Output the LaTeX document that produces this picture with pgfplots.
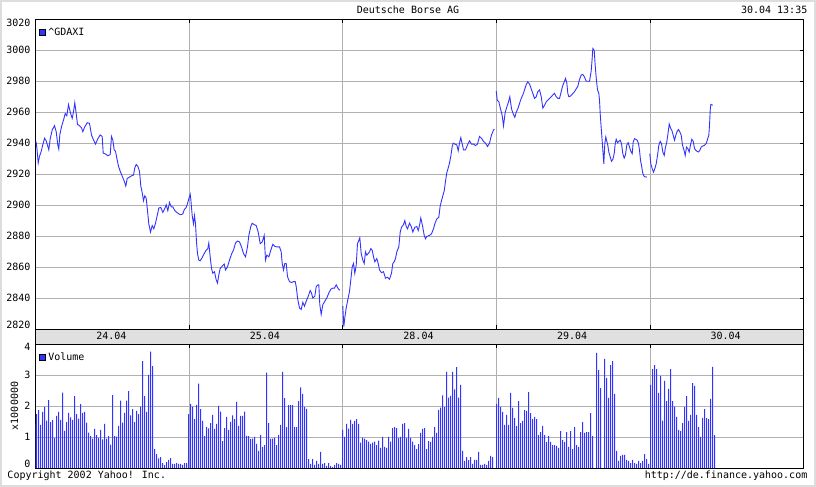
\documentclass[border=0pt]{standalone}
\usepackage{fontspec}
\setmainfont{DejaVu Sans Mono}
\usepackage{pgfplots}
\pgfplotsset{compat=1.18}
\definecolor{yb}{RGB}{51,51,255}
\definecolor{gridgray}{RGB}{176,176,176}
\definecolor{bandgray}{RGB}{224,224,224}
\definecolor{framegray}{RGB}{221,221,221}
\newcommand\cf{\fontsize{10bp}{12bp}\selectfont}

\pgfplotsset{
  yahoo/.style={
    scale only axis, width=768bp,
    xmin=0, xmax=768,
    xtick={153.6,307.2,460.8,614.4}, xticklabels={},
    xmajorgrids, ymajorgrids,
    grid style={gridgray, line width=0.8bp},
    axis line style={black, line width=0.9bp},
    tick style={black, line width=0.8bp},
    major tick length=4bp, tick align=inside,
    ticklabel style={font=\cf},
    yticklabel style={xshift=-1.5bp},
    legend style={at={(0,1)}, anchor=north west, draw=none, fill=none,
      xshift=3.5bp, yshift=-8.5bp, inner sep=0pt, font=\cf,
      column sep=3bp, nodes={inner sep=0pt}},
    legend image code/.code={\draw[draw=black, fill=yb, line width=0.6bp] (0bp,-2.8bp) rectangle (5.6bp,2.8bp);},
  }
}

\begin{document}
\begin{tikzpicture}[x=1bp, y=1bp, font=\cf]
\useasboundingbox (0,0) rectangle (816,487);
\fill[white] (0,0) rectangle (816,487);
\draw[framegray, line width=2bp] (1,1) rectangle (815,486);
\fill[bandgray] (35.5,143) rectangle (803.5,158);

% price
\begin{axis}[yahoo, at={(35.5bp,158bp)}, anchor=south west, height=309.7bp,
  ymin=2820, ymax=3020,
  ytick={2840,2860,2880,2900,2920,2940,2960,2980,3000},
  yticklabels={2840,2860,2880,2900,2920,2940,2960,2980,3000},
  extra y ticks={2822.8,3017.4}, extra y tick labels={2820,3020},
  extra y tick style={grid=none, major tick length=0pt},
  ytick pos=right, yticklabel pos=left]
\addplot[yb, line width=0.9bp] coordinates {
(0,2941.1)(0.7,2940.6)(1.7,2934.7)(2.7,2927.2)(4,2931.5)(5.7,2934.7)(7.3,2938.9)(9,2943.2)(10.7,2941.5)(12.3,2937.9)(13.3,2935.7)(14.7,2942.8)(16.7,2948.5)(19,2951.3)(20.7,2947.4)(22.3,2938.9)(23.3,2936.2)(24.3,2945.3)(26,2950.6)(28,2954.9)(29.7,2959.1)(31.3,2957.7)(33,2964.9)(34.7,2960.2)(36.7,2956)(38,2960.2)(39.3,2966.2)(40.7,2959.1)(42,2952.1)(44,2951.3)(46,2950)(47.3,2947.4)(49.3,2950.6)(51.7,2953.2)(54,2952.8)(56,2945.3)(58,2942.1)(60,2939.4)(62.3,2942.8)(64.7,2945.3)(66.7,2944.3)(67.7,2933.6)(70,2933)(72.3,2931.9)(74.7,2932.6)(76,2944.3)(77.3,2942.1)(78.7,2935.7)(80,2934.7)(81.3,2930.4)(83,2925.1)(84.7,2921.9)(86.7,2918.7)(88.7,2915.5)(90.3,2912.3)(91.7,2917.2)(94,2918.1)(96,2918.9)(98,2919.4)(99.3,2924)(100.7,2926.2)(102.3,2925.1)(104,2921.9)(105.3,2912.3)(106.7,2908.1)(108,2902.8)(109.3,2906)(110.7,2904.5)(112,2896.4)(113.3,2887.9)(115,2882.6)(116.7,2886.8)(118.3,2884.7)(120,2888.3)(121.7,2893.2)(123.3,2898.1)(125.3,2898.5)(127.3,2895.3)(129,2897.4)(130.7,2900.2)(132.3,2896.4)(134,2901.7)(135.7,2898.9)(137.3,2898.9)(139.3,2896.4)(141.3,2895.3)(143.3,2894.3)(145.3,2893.8)(147.3,2894.3)(149,2897.4)(150.7,2898.5)(152.3,2901.7)(153.7,2904.9)(154.7,2907)(155.3,2903.8)(156.7,2893.2)(158,2887.9)(159,2893.2)(160,2887.9)(161,2876.2)(162,2868.7)(163.3,2864.5)(164.7,2864)(166.7,2866.2)(168.7,2868.7)(170.7,2870.9)(172.3,2871.9)(173.3,2875.5)(174.7,2866.6)(176,2859.1)(177.3,2856)(179,2857)(180.7,2851.7)(182,2849.6)(183.3,2854.9)(184.7,2859.1)(186.7,2860.6)(188.7,2861.9)(190,2858.1)(192,2860.2)(194,2864.5)(196,2868.3)(198,2870.9)(200,2875.5)(202,2876.8)(204,2876.2)(206,2873)(208,2868.7)(210,2866.6)(212,2873)(213.3,2880.4)(215.3,2886.2)(216.7,2888.3)(218.7,2887.4)(220.7,2886.8)(222.7,2882.6)(224.7,2875.1)(226.7,2876.2)(228.7,2880.4)(230,2864.5)(231.3,2867.7)(233.3,2866.6)(235.3,2870.9)(237.3,2874.7)(239.3,2873.4)(241.3,2873)(244,2873)(245.7,2869.8)(246.7,2862.3)(248,2858.1)(249.3,2862.3)(250.7,2862.3)(252,2853.8)(254,2850.6)(256,2850)(258,2850.6)(259.7,2850.6)(260.7,2847.4)(262.3,2838.9)(264,2833.6)(265.7,2832.6)(267.3,2837.2)(269,2834.7)(270.7,2837.9)(272.7,2841.1)(274.7,2844.9)(276,2843.2)(277.3,2840)(279.3,2841.1)(280.7,2847.4)(282.3,2848.5)(283.3,2848.5)(284.3,2835.7)(285.7,2829.4)(287.3,2835.7)(289.3,2837.9)(291.3,2840)(293.3,2843.2)(295.3,2845.7)(297.3,2846.4)(299,2846.4)(300.7,2848.5)(302.3,2846.4)(304.3,2844.9)
};
\addlegendentry{\textasciicircum GDAXI}
\addplot[yb, line width=0.9bp, forget plot] coordinates {
(307.3,2834.7)(308.3,2821.5)(309.3,2827.2)(310.7,2833.6)(312.3,2838.9)(314,2844.3)(315.3,2851.7)(316.7,2860.2)(318,2862.3)(319.3,2855.9)(320.7,2861.3)(322,2875.1)(323.3,2877.2)(324.3,2878.9)(325.7,2868.7)(327.3,2864.5)(328.7,2862.3)(330,2869.8)(331.3,2867.7)(332.7,2868.7)(334,2869.8)(335.3,2871.9)(336.7,2870.9)(338,2866.6)(339.3,2863.4)(341.3,2865.5)(342.7,2862.3)(344,2858.1)(346,2856.4)(348,2857)(350,2852.8)(352,2853.4)(354,2852.1)(356,2856)(357.3,2862.3)(358.7,2863.4)(360,2865.5)(361.3,2869.8)(363.3,2873)(364.7,2882.6)(366,2885.7)(368,2887.4)(369.3,2890)(370.7,2886.2)(372,2884.7)(374,2888.3)(376,2885.7)(377.3,2882.6)(379.3,2885.7)(381.3,2886.2)(382.7,2883.6)(384,2886.8)(385.3,2891.7)(387.3,2885.7)(388.7,2880.4)(390,2878.3)(391.3,2879.8)(394,2880.4)(396,2881.5)(398,2884.7)(399.3,2887.9)(401.3,2891.1)(403.3,2892.1)(404.7,2899.6)(406,2902.8)(407.3,2906)(408.7,2909.1)(410,2915.5)(411.3,2920.9)(412.7,2924)(414,2927.2)(415.3,2931.5)(416.7,2937.9)(417.7,2940)(419.3,2939.4)(421.3,2938.9)(422.7,2935.1)(424,2940)(425.3,2943.6)(426.7,2939.4)(428,2935.7)(430,2935.7)(432,2938.9)(434,2941.5)(436,2939.4)(438,2939.4)(440,2938.5)(442,2939.4)(444,2944.3)(446,2943.2)(448,2941.1)(450,2940)(452,2937.9)(454,2940)(456,2945.3)(458,2948.5)(459,2949.1)
};
\addplot[yb, line width=0.9bp, forget plot] coordinates {
(460.7,2973.8)(461.7,2967.8)(463.3,2966.7)(465,2962.2)(466.7,2957.8)(468,2951.1)(469.7,2960)(471.3,2963.3)(473,2966.7)(474.3,2970)(476,2962.2)(477.7,2958.9)(479.3,2956.7)(480.7,2960)(482.3,2962.2)(484,2965.6)(485.7,2968.9)(487.3,2971.1)(489,2974.4)(490.7,2977.8)(492.3,2979.6)(494,2978.2)(495.7,2975.1)(497.3,2972.2)(499,2968.9)(500.7,2970)(502.3,2973.3)(504,2974.4)(505.7,2970)(507.3,2962.7)(509,2964.4)(510.7,2966.7)(512.3,2967.8)(514,2968.9)(515.7,2970)(517.3,2971.1)(519,2972.2)(520.7,2970)(522.3,2968.9)(524,2968.9)(525.7,2973.3)(527.3,2977.3)(529,2980)(530,2981.8)(531.3,2978.9)(532.3,2972.2)(533.3,2970)(535,2970.4)(536.7,2971.6)(539,2973.3)(540.7,2975.1)(542.3,2976.7)(544,2981.1)(545.7,2984)(547.3,2984.4)(549,2982.7)(550.7,2980)(552.3,2980)(554,2980)(555.7,2986.7)(556.7,2995.1)(557.3,3001.1)(558.7,3000)(559.7,2990)(560.7,2982.2)(562,2974.4)(563.3,2972.2)(564,2967.8)(564.7,2958.9)(565.7,2949.8)(566.7,2941.2)(567.7,2932.1)(568.3,2926.7)(569.3,2939.7)(570.3,2944)(571.3,2941.2)(572.3,2938.6)(573.3,2934.3)(574.7,2931.1)(576,2928.3)(577.3,2929.5)(578.7,2933.2)(579.7,2939.7)(580.7,2942.5)(582,2940.3)(583.3,2941.2)(584.7,2941.9)(586,2939.7)(587.3,2933.2)(588.7,2930.4)(590,2932.6)(591.3,2939)(592.7,2940.3)(594,2937.5)(595.3,2934.7)(596.7,2933.2)(597.7,2940.8)(599,2942.9)(600.3,2942.5)(601.7,2941.9)(603,2939.7)(604,2935.4)(605,2928.9)(606,2925.7)(607,2921.3)(608,2919.2)(609.3,2918.3)(611.3,2918.1)
};
\addplot[yb, line width=0.9bp, forget plot] coordinates {
(614.3,2933.2)(615.3,2926.7)(616.7,2923.5)(618,2921.3)(619.3,2923.5)(620.7,2926.7)(622,2932.1)(623.3,2938.6)(624.7,2941.2)(626,2939.7)(627.3,2934.3)(628.7,2932.1)(630,2937.5)(631.3,2940.8)(632.7,2947.3)(633.7,2952.4)(635,2949.8)(636.3,2948.3)(637.7,2945.1)(639,2941.9)(640.3,2945.1)(641.7,2947.7)(643,2948.8)(644.3,2947.3)(645.7,2945.1)(647,2938.6)(648.3,2936)(649.7,2932.1)(651,2937.5)(652.3,2936.5)(653.7,2934.3)(655,2939)(656.3,2942.5)(657.7,2941.2)(659,2936.5)(660.3,2935.4)(661.7,2934.7)(663,2934.3)(664.3,2935.4)(665.7,2937.5)(667.3,2938.2)(669,2938.6)(670.7,2939.7)(672,2942.5)(673.3,2945.1)(674,2951.6)(674.7,2961.3)(675.3,2965)(677.3,2964.5)
};
\end{axis}

% volume
\begin{axis}[yahoo, at={(35.5bp,19bp)}, anchor=south west, height=124bp,
  ymin=0, ymax=4,
  xtick pos=right,
  ytick={1,2,3}, yticklabels={1,2,3},
  extra y ticks={0.13,3.9}, extra y tick labels={0,4},
  extra y tick style={grid=none},
  ytick style={draw=none},
  ylabel={x1000000},
  ylabel style={at={(axis description cs:0,0.5)}, anchor=center, yshift=21bp, inner sep=0pt, font=\cf}]
\addplot[ybar, bar width=1bp, fill=yb, draw=none,
  legend image code/.code={\draw[draw=black, fill=yb, line width=0.6bp] (0bp,-2.8bp) rectangle (5.6bp,2.8bp);}]
coordinates {
(0,1.42)(1,1.74)(3,1.87)(5,1.39)(7,1.81)(9,1.97)(11,1.53)(13,2.19)(15,1.48)(17,1.55)(19,0.97)(21,1.68)(23,1.81)(25,1.55)(27,2.43)(29,1.20)(31,1.48)(33,1.78)(35,1.63)(37,1.55)(39,2.32)(41,1.74)(43,1.59)(45,2.06)(47,1.78)(49,1.81)(51,1.46)(53,1.14)(55,1.03)(57,0.95)(59,1.26)(61,1.06)(63,0.97)(65,1.23)(67,0.92)(69,1.42)(71,0.95)(73,1.03)(75,0.75)(77,2.35)(79,1.03)(81,1.01)(83,1.35)(85,2.17)(87,1.46)(89,1.78)(91,2.17)(93,2.48)(95,1.70)(97,1.90)(99,1.48)(101,1.84)(103,1.74)(105,1.98)(107,3.45)(109,2.32)(111,1.81)(113,3.00)(115,3.75)(117,3.29)(119,0.61)(121,0.45)(123,0.31)(125,0.35)(127,0.16)(129,0.09)(131,0.19)(133,0.26)(135,0.32)(137,0.13)(139,0.13)(141,0.16)(143,0.13)(145,0.13)(147,0.10)(149,0.16)(151,0.16)
(153,1.74)(155,2.07)(157,1.98)(159,1.58)(161,2.04)(163,2.72)(165,1.90)(167,1.52)(169,1.03)(171,1.32)(173,1.28)(175,1.45)(177,1.71)(179,1.26)(181,1.42)(183,2.00)(185,1.82)(187,0.87)(189,1.29)(191,1.65)(193,1.23)(195,1.49)(197,1.70)(199,1.58)(201,2.13)(203,1.36)(205,1.68)(207,1.68)(209,1.82)(211,1.04)(213,1.03)(215,0.94)(217,0.95)(219,1.00)(221,0.78)(223,0.55)(225,1.07)(227,0.68)(229,0.74)(231,3.08)(233,1.45)(235,0.94)(237,0.95)(239,0.98)(241,0.74)(243,1.07)(245,1.39)(247,3.10)(249,2.25)(251,1.32)(253,2.03)(255,2.03)(257,2.03)(259,1.32)(261,1.32)(263,2.16)(265,2.60)(267,2.39)(269,1.97)(271,1.91)(273,0.29)(275,0.13)(277,0.29)(279,0.10)(281,0.23)(283,0.13)(285,0.52)(287,0.13)(289,0.16)(291,0.06)(293,0.16)(295,0.06)(297,0.03)(299,0.10)(301,0.16)(303,0.13)(305,0.10)
(307,1.23)(309,1.00)(311,1.42)(313,1.27)(315,1.55)(317,1.42)(319,1.52)(321,1.58)(323,1.42)(325,0.82)(327,0.98)(329,0.95)(331,0.90)(333,0.85)(335,0.78)(337,0.82)(339,0.85)(341,0.74)(343,0.88)(345,0.65)(347,1.00)(349,0.68)(351,0.65)(353,1.00)(355,0.85)(357,1.29)(359,1.32)(361,1.29)(363,0.97)(365,1.00)(367,1.42)(369,1.45)(371,0.97)(373,1.26)(375,0.97)(377,0.85)(379,0.74)(381,0.61)(383,0.77)(385,1.13)(387,1.26)(389,1.29)(391,0.61)(393,0.87)(395,0.84)(397,1.00)(399,1.32)(401,1.13)(403,1.87)(405,1.95)(407,2.34)(409,1.97)(411,3.10)(413,2.27)(415,2.33)(417,3.10)(419,2.54)(421,3.25)(423,2.27)(425,2.68)(427,0.55)(429,0.23)(431,0.35)(433,0.25)(435,0.35)(437,0.13)(439,0.26)(441,0.26)(443,0.52)(445,0.10)(447,0.10)(449,0.13)(451,0.10)(453,0.23)(455,0.39)(457,0.35)
(461,2.06)(463,2.26)(465,1.97)(467,1.81)(469,1.39)(471,1.71)(473,1.39)(475,2.42)(477,1.94)(479,1.61)(481,1.35)(483,2.16)(485,1.45)(487,1.52)(489,1.87)(491,1.84)(493,2.45)(495,1.77)(497,1.58)(499,1.65)(501,1.58)(503,1.06)(505,1.16)(507,1.35)(509,1.06)(511,0.84)(513,1.03)(515,0.84)(517,0.74)(519,0.74)(521,0.71)(523,0.65)(525,1.19)(527,0.90)(529,0.84)(531,1.16)(533,0.68)(535,1.19)(537,0.61)(539,1.32)(541,0.74)(543,0.68)(545,1.16)(547,1.48)(549,1.13)(551,1.16)(553,1.16)(555,1.77)(557,1.03)(561,3.71)(563,3.16)(565,2.58)(569,3.52)(571,2.90)(573,2.26)(575,3.32)(577,3.45)(579,2.39)(581,0.55)(583,0.23)(585,0.39)(587,0.42)(589,0.42)(591,0.26)(593,0.23)(595,0.16)(597,0.26)(599,0.16)(601,0.13)(603,0.23)(605,0.16)(607,0.23)(609,0.45)(611,0.29)(613,0.13)
(615,2.68)(617,3.19)(619,3.32)(621,3.19)(623,2.42)(625,2.97)(627,1.53)(629,2.81)(631,2.16)(633,2.55)(635,3.19)(637,2.16)(639,1.98)(641,1.65)(643,1.23)(645,1.19)(647,1.45)(649,1.97)(651,2.32)(653,1.52)(655,1.71)(657,2.74)(659,2.65)(661,1.71)(663,1.32)(665,1.00)(667,1.61)(669,1.90)(671,1.61)(673,1.58)(675,2.23)(677,3.26)(679,1.06)
};
\addlegendentry{Volume}
\end{axis}

\draw[black, line width=0.9bp] (35.5,143) rectangle (803.5,158);
\node[anchor=base] at (111.3,147.7) {24.04};
\node[anchor=base] at (264.9,147.7) {25.04};
\node[anchor=base] at (418.5,147.7) {28.04};
\node[anchor=base] at (572.1,147.7) {29.04};
\node[anchor=base] at (725.7,147.7) {30.04};

\node[anchor=base] at (408,473) {Deutsche Borse AG};
\node[anchor=base east, inner xsep=0pt] at (807.5,473) {30.04 13:35};
\node[anchor=base west, inner xsep=0pt] at (7.3,8.7) {Copyright 2002 Yahoo! Inc.};
\node[anchor=base east, inner xsep=0pt] at (807.5,8.7) {http://de.finance.yahoo.com};
\end{tikzpicture}
\end{document}
